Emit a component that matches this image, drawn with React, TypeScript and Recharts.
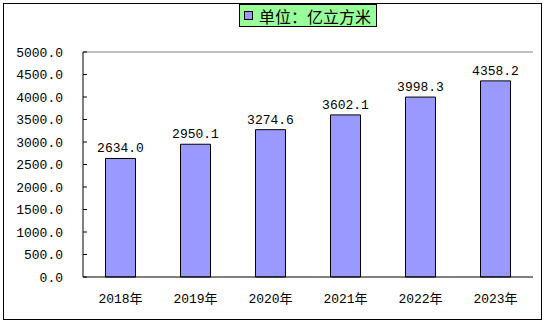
import React from 'react';
import { BarChart, Bar, XAxis, YAxis, LabelList, ReferenceLine, Legend } from 'recharts';

const categories = ['2018年', '2019年', '2020年', '2021年', '2022年', '2023年'];
const values = [2634.0, 2950.1, 3274.6, 3602.1, 3998.3, 4358.2];
const yTicks = [0, 500, 1000, 1500, 2000, 2500, 3000, 3500, 4000, 4500, 5000];
const boundaryTicks = [1, 2, 3, 4, 5];
const seriesName = '单位：亿立方米';

const data = categories.map((c, i) => ({ year: c, value: values[i] }));

const NUM_FONT = "'Liberation Mono', 'Noto Sans CJK SC', monospace";
const BAR_COLOR = '#9999FF';

const LegendContent = () => (
  <div
    style={{
      boxSizing: 'border-box',
      width: 138,
      height: 23,
      background: '#99FF99',
      border: '1px solid #000',
      display: 'flex',
      alignItems: 'center',
      paddingLeft: 4,
      fontFamily: "'Noto Sans CJK SC', sans-serif",
      fontSize: 16,
      lineHeight: '16px',
      color: '#000',
      whiteSpace: 'nowrap',
    }}
  >
    <span
      style={{
        display: 'inline-block',
        width: 7,
        height: 7,
        background: BAR_COLOR,
        border: '1px solid #000',
        marginRight: 6,
      }}
    />
    <span>{seriesName}</span>
  </div>
);

export default function App() {
  return (
    <div style={{ position: 'absolute', left: 0, top: 0, width: 545, height: 323, background: '#fff' }}>
      <div
        style={{
          position: 'absolute',
          left: 3,
          top: 3,
          width: 537,
          height: 315,
          border: '1px solid #000',
        }}
      />
      <div style={{ position: 'absolute', left: 0, top: 0 }}>
        <BarChart
          width={545}
          height={323}
          data={data}
          margin={{ top: 52, right: 12, bottom: 16, left: 0 }}
          barCategoryGap="30%"
        >
          <XAxis
            xAxisId="grid"
            type="number"
            domain={[0, 6]}
            ticks={boundaryTicks}
            tick={false}
            axisLine={false}
            tickSize={-4}
            tickLine={{ stroke: '#000' }}
            height={0}
            allowDataOverflow
          />
          <XAxis
            xAxisId="cat"
            dataKey="year"
            type="category"
            height={30}
            tickLine={false}
            tickSize={0}
            tickMargin={17}
            axisLine={{ stroke: '#000' }}
            tick={{ fill: '#000', fontSize: 13, fontFamily: NUM_FONT }}
          />
          <YAxis
            width={83}
            domain={[0, 5000]}
            ticks={yTicks}
            interval={0}
            tickFormatter={(v: number) => v.toFixed(1)}
            axisLine={{ stroke: '#000' }}
            tickLine={{ stroke: '#000' }}
            tickSize={-4}
            tickMargin={24}
            tick={{ fill: '#000', fontSize: 13, fontFamily: NUM_FONT }}
          />
          <ReferenceLine xAxisId="grid" y={5000} stroke="#808080" />
          <ReferenceLine xAxisId="grid" x={6} stroke="#808080" />
          <Legend
            layout="vertical"
            verticalAlign="middle"
            align="center"
            content={<LegendContent />}
            wrapperStyle={{ position: 'absolute', left: 239, top: 4, width: 138, height: 23 }}
          />
          <Bar
            xAxisId="cat"
            dataKey="value"
            name={seriesName}
            fill={BAR_COLOR}
            stroke="#000"
            strokeWidth={1}
            isAnimationActive={false}
          >
            <LabelList
              dataKey="value"
              position="top"
              offset={6}
              formatter={(v: number) => Number(v).toFixed(1)}
              style={{ fill: '#000', fontSize: 13, fontFamily: NUM_FONT }}
            />
          </Bar>
        </BarChart>
      </div>
    </div>
  );
}
